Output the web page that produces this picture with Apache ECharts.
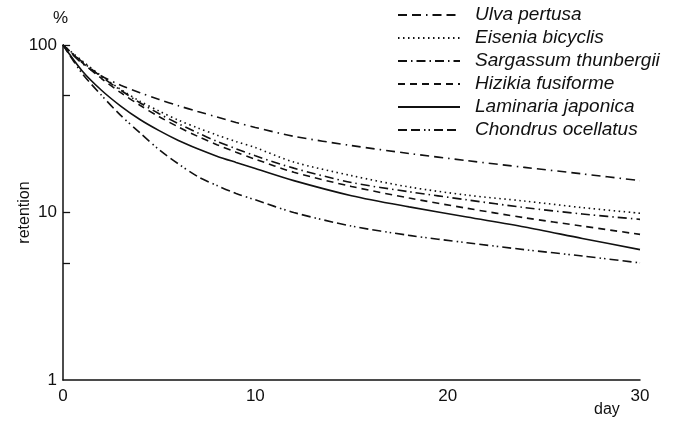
<!DOCTYPE html>
<html>
<head>
<meta charset="utf-8">
<script src="https://cdn.jsdelivr.net/npm/echarts@6/dist/echarts.min.js"></script>
<style>
  html, body { margin: 0; padding: 0; background: #fff; }
  #chart { width: 679px; height: 421px; }
</style>
</head>
<body>
<div id="chart"></div>
<script>
// Sampling days (x) and retention (%) for each seaweed species
const days = [0, 1, 2, 3, 4, 5, 6, 7, 8, 9, 10, 12, 15, 18, 21, 24, 27, 30];
const ulvaPertusa         = [100, 77.6, 65.3, 57.5, 51.9, 47.3, 43.4, 40.1, 37.2, 34.5, 32.2, 28.5, 25.1, 22.5, 20.4, 18.6, 17.0, 15.5];
const eiseniaBicyclis     = [100, 80.4, 65.3, 54.3, 46.2, 40.3, 35.6, 32.0, 29.0, 26.5, 24.4, 20.0, 16.6, 14.2, 12.7, 11.7, 10.7, 9.9];
const sargassumThunbergii = [100, 79.4, 64.6, 53.7, 45.2, 38.9, 33.9, 29.9, 26.6, 24.0, 21.8, 18.4, 15.1, 13.3, 11.9, 10.7, 9.8, 9.1];
const hizikiaFusiforme    = [100, 78.5, 63.1, 51.9, 43.7, 37.3, 32.4, 28.5, 25.4, 22.9, 20.8, 17.4, 14.3, 12.2, 10.6, 9.3, 8.3, 7.4];
const laminariaJaponica   = [100, 70.0, 53.7, 43.2, 35.9, 30.8, 26.9, 24.0, 21.7, 19.9, 18.3, 15.5, 12.6, 10.8, 9.4, 8.2, 7.0, 6.0];
const chondrusOcellatus   = [100, 67.6, 50.1, 38.0, 29.9, 23.7, 19.5, 16.4, 14.5, 13.0, 11.9, 10.0, 8.3, 7.3, 6.6, 6.0, 5.5, 5.0];

const xLabels = [0, 10, 20, 30];
const yLabels = [1, 10, 100];
const yMinorTicks = [5, 50];
const yDecadeTicks = [10, 100];

const speciesNames = ['Ulva pertusa', 'Eisenia bicyclis', 'Sargassum thunbergii',
  'Hizikia fusiforme', 'Laminaria japonica', 'Chondrus ocellatus'];
const speciesValues = [ulvaPertusa, eiseniaBicyclis, sargassumThunbergii,
  hizikiaFusiforme, laminariaJaponica, chondrusOcellatus];
const dashPatterns = [
  [9, 5, 9, 5, 1.5, 5],          // long dash, long dash, dot
  [1.5, 3.5],                     // dotted
  [9, 4, 1.5, 4],                 // dash-dot
  [7, 5],                         // dashed
  'solid',
  [9, 4, 9, 4, 1.5, 3, 1.5, 4]   // dash, dash, dot, dot
];

const FONT = '"Liberation Sans", Arial, Helvetica, sans-serif';
const tickStyle = { color: '#111', width: 1.3 };
const TICK_DAYS = 0.37; // inward tick length expressed in days along x

const series = speciesNames.map((name, i) => ({
  name: name,
  type: 'line',
  smooth: 0.3,
  symbol: 'none',
  data: days.map((d, k) => [d, speciesValues[i][k]]),
  lineStyle: { color: '#111', width: 1.6, type: dashPatterns[i] },
  itemStyle: { color: '#111' }
}));

// short inward ticks at the decades of the retention axis
series[0].markLine = {
  silent: true,
  symbol: ['none', 'none'],
  label: { show: false },
  lineStyle: { color: '#111', width: 1.3, type: 'solid' },
  data: yDecadeTicks.map(v => [{ coord: [0, v] }, { coord: [TICK_DAYS, v] }])
};

const logAxisBase = { type: 'log', logBase: 10, min: 1, max: 100, splitLine: { show: false }, minorTick: { show: false } };

const chart = echarts.init(document.getElementById('chart'), null, { renderer: 'canvas' });
chart.setOption({
  backgroundColor: '#fff',
  animation: false,
  grid: { left: 63, right: 39, top: 45, bottom: 41, containLabel: false, outerBoundsMode: 'none' },
  legend: {
    orient: 'vertical',
    left: 397,
    top: 5,
    padding: 0,
    itemWidth: 62,
    itemHeight: 14,
    itemGap: 3,
    data: speciesNames,
    itemStyle: { opacity: 0 },
    textStyle: {
      fontFamily: FONT, fontStyle: 'italic', fontSize: 19, color: '#111',
      lineHeight: 20, padding: [0, 0, 0, 10]
    }
  },
  xAxis: {
    type: 'value',
    min: 0, max: 30, interval: 10,
    axisLine: { lineStyle: { color: '#111', width: 1.5 } },
    axisTick: { show: false },
    splitLine: { show: false },
    axisLabel: {
      fontFamily: FONT, fontSize: 17, color: '#111', margin: 8,
      customValues: xLabels
    }
  },
  yAxis: [
    Object.assign({}, logAxisBase, {
      name: 'retention',
      nameLocation: 'middle',
      nameRotate: 90,
      nameGap: 30,
      nameMoveOverlap: false,
      nameTextStyle: { fontFamily: FONT, fontSize: 16, color: '#111' },
      axisLine: { show: true, lineStyle: { color: '#111', width: 1.5 } },
      axisTick: { show: false },
      axisLabel: {
        fontFamily: FONT, fontSize: 17, color: '#111', margin: 6,
        customValues: yLabels
      }
    }),
    // companion log axis carrying the short ticks at 5 and 50
    Object.assign({}, logAxisBase, {
      position: 'left',
      offset: 0,
      axisLine: { show: false },
      axisLabel: { show: false },
      axisTick: {
        show: true, inside: true, length: 7, interval: 0,
        lineStyle: tickStyle, customValues: yMinorTicks
      }
    })
  ],
  graphic: [
    { type: 'text', left: 53, top: 10, style: { text: '%', fontFamily: FONT, fontSize: 17, fill: '#111' } },
    { type: 'text', left: 594, top: 402, style: { text: 'day', fontFamily: FONT, fontSize: 16, fill: '#111' } }
  ],
  series: series
});
</script>
</body>
</html>
